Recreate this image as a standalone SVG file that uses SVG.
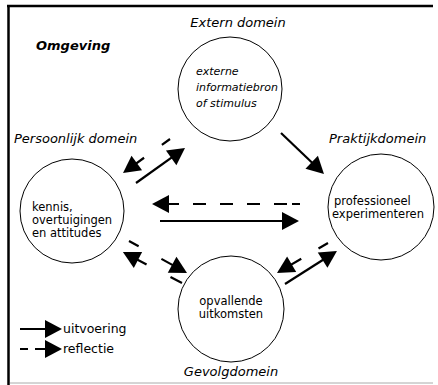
<svg xmlns="http://www.w3.org/2000/svg" width="438" height="385" viewBox="0 0 438 385">
<style>
.c{fill:#fff;stroke:#000;stroke-width:1}
.t{font-family:"DejaVu Sans",Verdana,sans-serif;fill:#000}
.h{font-size:13px;font-style:italic}
.n{font-size:11.5px}
.a{stroke:#000;stroke-width:2.2;fill:none;marker-end:url(#ah)}
</style>
<defs>
<marker id="ah" markerUnits="userSpaceOnUse" markerWidth="17" markerHeight="18" refX="9" refY="9" orient="auto" overflow="visible">
<path d="M0,0 L17,9 L0,18 z" fill="#000"/>
</marker>
</defs>
<rect width="438" height="385" fill="#fff"/>
<g id="frame">
<line x1="7" y1="6" x2="433" y2="6" stroke="#000" stroke-width="2.5"/>
<line x1="8.5" y1="5" x2="8.5" y2="385" stroke="#000" stroke-width="2.5"/>
<line x1="10" y1="383" x2="433" y2="383" stroke="#aaa" stroke-width="1"/>
</g>
<text class="t" x="36" y="50" font-size="13" font-weight="bold" font-style="italic">Omgeving</text>
<g id="extern">
<text class="t h" x="238" y="27" text-anchor="middle">Extern domein</text>
<circle class="c" cx="230" cy="89" r="52"/>
<text class="t" font-size="11" font-style="italic"><tspan x="196" y="75">externe</tspan><tspan x="196" y="91">informatiebron</tspan><tspan x="196" y="107">of stimulus</tspan></text>
</g>
<g id="persoonlijk">
<text class="t h" x="14" y="143">Persoonlijk domein</text>
<circle class="c" cx="72" cy="211" r="52"/>
<text class="t n"><tspan x="32" y="211">kennis,</tspan><tspan x="32" y="224">overtuigingen</tspan><tspan x="32" y="237">en attitudes</tspan></text>
</g>
<g id="praktijk">
<text class="t h" x="329" y="143">Praktijkdomein</text>
<circle class="c" cx="381" cy="207" r="53"/>
<text class="t n"><tspan x="334" y="205">professioneel</tspan><tspan x="332" y="218">experimenteren</tspan></text>
</g>
<g id="gevolg">
<circle class="c" cx="231" cy="309" r="53"/>
<text class="t n" text-anchor="middle"><tspan x="231" y="305">opvallende</tspan><tspan x="231" y="318">uitkomsten</tspan></text>
<text class="t h" x="231" y="376" text-anchor="middle">Gevolgdomein</text>
</g>
<g id="connectors">
<line class="a" x1="281" y1="133" x2="318.2" y2="168.5"/>
<line class="a" x1="136" y1="183" x2="178.5" y2="152.7"/>
<line class="a" x1="170" y1="139" x2="129.5" y2="168.3" stroke-dasharray="10 22 40"/>
<line class="a" x1="300" y1="204" x2="160" y2="204" stroke-dasharray="8 5 13 14 13 14 13 14 13 14 40"/>
<line class="a" x1="160" y1="221" x2="291" y2="221"/>
<line class="a" x1="129" y1="241" x2="180" y2="269.1" stroke-dasharray="11 26 40"/>
<line class="a" x1="182" y1="283" x2="130" y2="255.8" stroke-dasharray="13 27 40"/>
<line class="a" x1="328" y1="243" x2="283.9" y2="268.9" stroke-dasharray="11 20 40"/>
<line class="a" x1="285" y1="284" x2="330.2" y2="255.2"/>
</g>
<g id="legend">
<line class="a" x1="20" y1="329" x2="54" y2="329"/>
<line class="a" x1="20" y1="349" x2="54" y2="349" stroke-dasharray="8 7 40"/>
<text class="t" x="63" y="333" font-size="12.5">uitvoering</text>
<text class="t" x="63" y="353" font-size="12.5">reflectie</text>
</g>
</svg>
